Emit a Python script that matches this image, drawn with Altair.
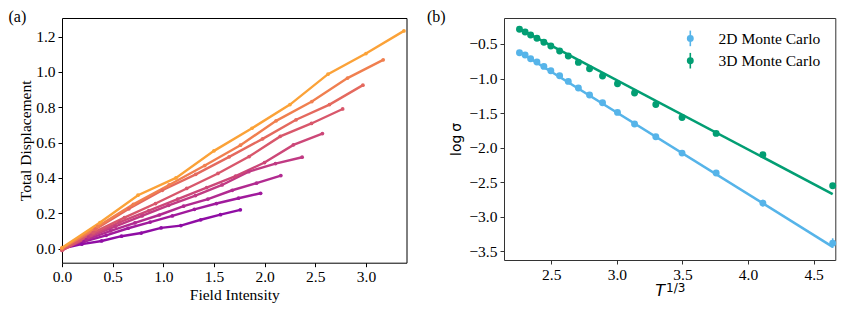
import altair as alt
import pandas as pd

# ---------------- panel (a): Total displacement vs field intensity ----------------
series_a = ["s1", "s2", "s3", "s4", "s5", "s6", "s7", "s8", "s9"]
colors_a = ["#8f0da4", "#a01a9c", "#b12a90", "#c03a83", "#cc4778",
            "#d8576b", "#e4695e", "#f07f4f", "#fba238"]

x_s1 = [0, 0.196, 0.391, 0.587, 0.782, 0.978, 1.173, 1.369, 1.564, 1.76]
y_s1 = [0.0, 0.025, 0.043, 0.07, 0.088, 0.117, 0.13, 0.163, 0.192, 0.219]
x_s2 = [0, 0.218, 0.436, 0.653, 0.871, 1.089, 1.307, 1.524, 1.742, 1.96]
y_s2 = [0.0, 0.04, 0.075, 0.115, 0.15, 0.185, 0.222, 0.255, 0.285, 0.313]
x_s3 = [0, 0.24, 0.48, 0.72, 0.96, 1.2, 1.44, 1.68, 1.92, 2.16]
y_s3 = [0.0, 0.05, 0.1, 0.145, 0.19, 0.24, 0.28, 0.33, 0.37, 0.413]
x_s4 = [0, 0.263, 0.527, 0.79, 1.053, 1.317, 1.58, 1.843, 2.107, 2.37]
y_s4 = [-0.005, 0.065, 0.125, 0.185, 0.245, 0.30, 0.36, 0.435, 0.481, 0.517]
x_s5 = [0, 0.286, 0.571, 0.857, 1.142, 1.428, 1.713, 1.999, 2.284, 2.57]
y_s5 = [-0.01, 0.075, 0.15, 0.215, 0.28, 0.345, 0.41, 0.487, 0.587, 0.651]
x_s6 = [0, 0.308, 0.616, 0.923, 1.231, 1.539, 1.847, 2.154, 2.462, 2.77]
y_s6 = [-0.01, 0.09, 0.175, 0.255, 0.34, 0.425, 0.521, 0.635, 0.708, 0.79]
x_s7 = [0, 0.33, 0.66, 0.99, 1.32, 1.65, 1.98, 2.31, 2.64, 2.97]
y_s7 = [0.0, 0.11, 0.225, 0.33, 0.42, 0.519, 0.621, 0.729, 0.815, 0.925]
x_s8 = [0, 0.352, 0.704, 1.057, 1.409, 1.761, 2.113, 2.466, 2.818, 3.17]
y_s8 = [0.0, 0.125, 0.25, 0.36, 0.47, 0.585, 0.723, 0.832, 0.965, 1.068]
x_s9 = [0, 0.375, 0.75, 1.125, 1.5, 1.875, 2.25, 2.625, 3.0, 3.375]
y_s9 = [0.005, 0.147, 0.302, 0.40, 0.553, 0.681, 0.815, 0.987, 1.104, 1.232]

xticks_a = [0.0, 0.5, 1.0, 1.5, 2.0, 2.5, 3.0]
yticks_a = [0.0, 0.2, 0.4, 0.6, 0.8, 1.0, 1.2]

# ---------------- panel (b): log sigma vs T^(1/3) ----------------
series_b = ["2D Monte Carlo", "3D Monte Carlo"]
colors_b = ["#56B4E9", "#029E73"]
t13 = [2.258, 2.301, 2.343, 2.391, 2.444, 2.497, 2.564, 2.630, 2.707,
       2.792, 2.891, 3.005, 3.135, 3.297, 3.497, 3.757, 4.113, 4.645]
logsig_2d = [-0.626, -0.660, -0.713, -0.761, -0.824, -0.886, -0.959, -1.041, -1.137,
             -1.238, -1.349, -1.489, -1.658, -1.842, -2.078, -2.367, -2.801, -3.380]
err_2d = [0.012, 0.012, 0.012, 0.012, 0.012, 0.012, 0.012, 0.014, 0.014,
          0.015, 0.016, 0.018, 0.02, 0.022, 0.025, 0.03, 0.05, 0.07]
logsig_3d = [-0.288, -0.327, -0.370, -0.418, -0.476, -0.529, -0.602, -0.674, -0.766,
             -0.857, -0.963, -1.075, -1.210, -1.374, -1.562, -1.793, -2.102, -2.551]
err_3d = [0.01, 0.01, 0.01, 0.01, 0.01, 0.01, 0.01, 0.01, 0.01,
          0.01, 0.012, 0.012, 0.012, 0.014, 0.015, 0.016, 0.02, 0.02]
fit_x = [2.258, 4.645]
fit_2d = [-0.616, -3.433]
fit_3d = [-0.280, -2.671]
xticks_b = [2.5, 3.0, 3.5, 4.0, 4.5]
yticks_b = [-3.5, -3.0, -2.5, -2.0, -1.5, -1.0, -0.5]

SERIF = "Liberation Serif"
FS = 15.5


def make_axis(values, title, tick_color="black", label_expr=None, title_font=SERIF,
              title_size=FS, title_padding=2, label_padding=3):
    kw = dict(values=values, grid=False, domain=False, ticks=True, tickSize=4,
              tickColor=tick_color, tickWidth=1, labelFont=SERIF, labelFontSize=FS,
              labelColor="black", labelPadding=label_padding, labelFlush=False,
              labelOverlap=False, titleFont=title_font, titleFontSize=title_size,
              titleFontWeight="normal", titleColor="black", titlePadding=title_padding)
    kw["title"] = title
    if label_expr:
        kw["labelExpr"] = label_expr
    else:
        kw["format"] = ".1f"
    return alt.Axis(**kw)


# ---- build panel (a)
rows = []
xs_list = [x_s1, x_s2, x_s3, x_s4, x_s5, x_s6, x_s7, x_s8, x_s9]
ys_list = [y_s1, y_s2, y_s3, y_s4, y_s5, y_s6, y_s7, y_s8, y_s9]
for name, xs, ys in zip(series_a, xs_list, ys_list):
    for xv, yv in zip(xs, ys):
        rows.append({"series": name, "field": xv, "disp": yv})
dfa = pd.DataFrame(rows)

lines_a = alt.Chart(dfa).mark_line(
    strokeWidth=2.4, point=alt.OverlayMarkDef(filled=True, size=14)
).encode(
    x=alt.X("field:Q", scale=alt.Scale(domain=[0, 3.4], nice=False, zero=False),
            axis=make_axis(xticks_a, "Field Intensity")),
    y=alt.Y("disp:Q", scale=alt.Scale(domain=[-0.08, 1.305], nice=False, zero=False),
            axis=make_axis(yticks_a, "Total Displacement")),
    color=alt.Color("series:N", scale=alt.Scale(domain=series_a, range=colors_a), legend=None),
    order=alt.Order("field:Q"),
)

lab_a = alt.Chart(pd.DataFrame({"t": ["(a)"]})).mark_text(
    align="left", baseline="top", font=SERIF, fontSize=16, color="black"
).encode(x=alt.value(-53.5), y=alt.value(-9.3), text="t:N")

panel_a = alt.layer(lines_a, lab_a).properties(
    width=344.5, height=244.7, view=alt.ViewBackground(stroke="black", strokeWidth=1)
)

# ---- build panel (b)
rows = []
for name, ys, es in [(series_b[0], logsig_2d, err_2d), (series_b[1], logsig_3d, err_3d)]:
    for tv, yv, ev in zip(t13, ys, es):
        rows.append({"kind": name, "t": tv, "ls": yv, "lo": yv - ev, "hi": yv + ev})
dfb = pd.DataFrame(rows)
rows = []
for name, ys in [(series_b[0], fit_2d), (series_b[1], fit_3d)]:
    for tv, yv in zip(fit_x, ys):
        rows.append({"kind": name, "t": tv, "ls": yv})
dff = pd.DataFrame(rows)

FRAME_B = "#333333"
xs_b = alt.Scale(domain=[2.14, 4.665], nice=False, zero=False)
ys_b = alt.Scale(domain=[-3.624, -0.124], nice=False, zero=False)
cs_b = alt.Scale(domain=series_b, range=colors_b)
minus_expr = "replace(format(datum.value, '.1f'), '-', '\u2212')"
xax_b = make_axis(xticks_b, None, tick_color=FRAME_B)
yax_b = make_axis(yticks_b, "log\u2009\u03c3", tick_color=FRAME_B, label_expr=minus_expr,
                  title_font="DejaVu Sans", title_size=14, title_padding=5)

fits = alt.Chart(dff).mark_line(strokeWidth=2.6).encode(
    x=alt.X("t:Q", scale=xs_b, axis=xax_b),
    y=alt.Y("ls:Q", scale=ys_b, axis=yax_b),
    color=alt.Color("kind:N", scale=cs_b, legend=None),
)
errs = alt.Chart(dfb).mark_rule(strokeWidth=1.6).encode(
    x=alt.X("t:Q", scale=xs_b),
    y=alt.Y("lo:Q", scale=ys_b),
    y2="hi:Q",
    color=alt.Color("kind:N", scale=cs_b, legend=None),
)
pts = alt.Chart(dfb).mark_point(filled=True, shape="circle", size=48, opacity=1).encode(
    x=alt.X("t:Q", scale=xs_b),
    y=alt.Y("ls:Q", scale=ys_b),
    color=alt.Color("kind:N", scale=cs_b, legend=None),
)

# hand-built legend (marker with error bar + label)
legend_layers = []
for i, (name, col) in enumerate(zip(series_b, colors_b)):
    yc = 20.4 + 22.3 * i
    one = alt.Chart(pd.DataFrame({"t": [name]}))
    legend_layers.append(one.mark_rule(strokeWidth=1.6, color=col).encode(
        x=alt.value(186.3), y=alt.value(yc - 7.8), y2=alt.value(yc + 7.8)))
    legend_layers.append(one.mark_point(filled=True, shape="circle", size=48, opacity=1,
                                        color=col).encode(
        x=alt.value(186.3), y=alt.value(yc)))
    legend_layers.append(one.mark_text(align="left", baseline="middle", font=SERIF,
                                       fontSize=FS, color="black").encode(
        x=alt.value(214.6), y=alt.value(yc + 0.5), text="t:N"))

lab_b = alt.Chart(pd.DataFrame({"t": ["(b)"]})).mark_text(
    align="left", baseline="top", font=SERIF, fontSize=16, color="black"
).encode(x=alt.value(-77), y=alt.value(-9.3), text="t:N")
t_main = alt.Chart(pd.DataFrame({"t": ["T"]})).mark_text(
    align="left", baseline="alphabetic", font="DejaVu Sans", fontStyle="italic",
    fontSize=16, color="black"
).encode(x=alt.value(151.3), y=alt.value(277.7), text="t:N")
t_sup = alt.Chart(pd.DataFrame({"t": ["1/3"]})).mark_text(
    align="left", baseline="alphabetic", font="DejaVu Sans", fontSize=12, color="black"
).encode(x=alt.value(162), y=alt.value(273.5), text="t:N")

panel_b = alt.layer(fits, errs, pts, *legend_layers, lab_b, t_main, t_sup).properties(
    width=331.3, height=242, view=alt.ViewBackground(stroke=FRAME_B, strokeWidth=1)
)

chart = alt.hconcat(panel_a, panel_b, spacing=16).resolve_scale(
    color="independent"
).properties(padding=0)

chart.save("out.html", embed_options={"renderer": "svg", "actions": False})
